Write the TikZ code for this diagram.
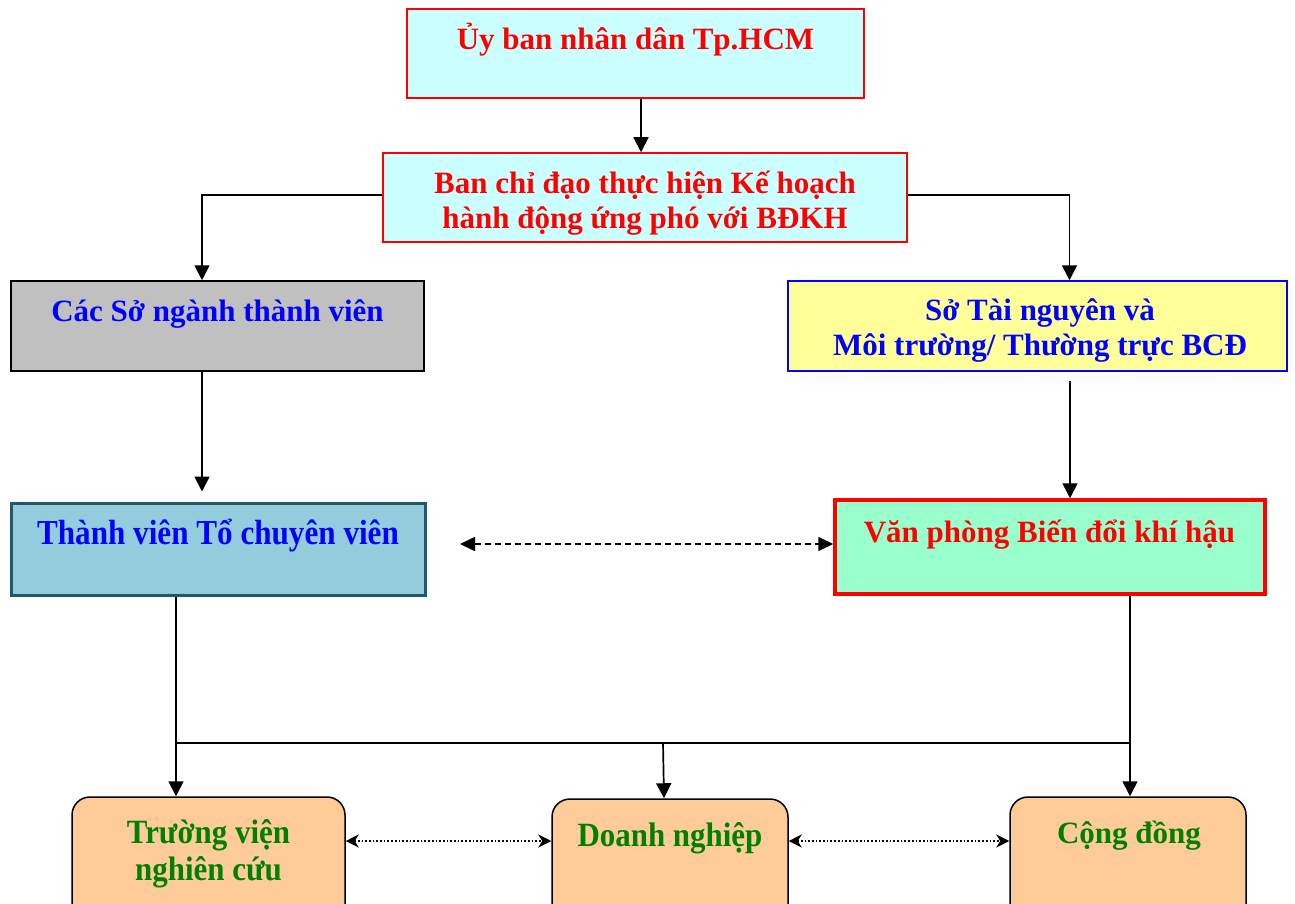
\documentclass[tikz,border=0pt]{standalone}
\usepackage{fontspec}
\setmainfont{Liberation Serif}
\usetikzlibrary{arrows.meta}
\definecolor{cyanfill}{HTML}{CCFFFF}
\definecolor{grayfill}{HTML}{C0C0C0}
\definecolor{yellowfill}{HTML}{FFFF99}
\definecolor{bluefill}{HTML}{93CDDD}
\definecolor{tealline}{HTML}{215968}
\definecolor{mintfill}{HTML}{99FFCC}
\definecolor{orangefill}{HTML}{FFCC99}
\definecolor{txtred}{HTML}{FF0000}
\definecolor{txtblue}{HTML}{0000FF}
\definecolor{txtgreen}{HTML}{008000}
\tikzset{
  boxbase/.style={rectangle, inner sep=0pt},
  redbox/.style={boxbase, draw=txtred, fill=cyanfill, line width=1.5pt},
  graybox/.style={boxbase, draw=black, fill=grayfill, line width=1.5pt},
  yellowbox/.style={boxbase, draw=txtblue, fill=yellowfill, line width=1.5pt},
  tealbox/.style={boxbase, draw=tealline, fill=bluefill, line width=3pt},
  mintbox/.style={boxbase, draw=txtred, fill=mintfill, line width=3.5pt},
  roundbox/.style={boxbase, draw=black, fill=orangefill, line width=1.5pt, rounded corners=18pt},
  txt/.style={inner sep=0pt, font=\fontsize{31}{35}\selectfont\bfseries, align=center},
  ctxt/.style={inner sep=0pt, font=\fontsize{34}{37}\selectfont\bfseries, align=center},
  arr/.style={line width=1.7pt, -{Triangle[width=15pt,length=15pt]}},
  plain/.style={line width=1.7pt},
  dasharr/.style={line width=1.7pt, dashed, dash pattern=on 6pt off 4pt, {Triangle[width=14pt,length=15pt]}-{Triangle[width=14pt,length=15pt]}},
  dotarr/.style={line width=1.7pt, dotted, {Stealth[width=13pt,length=13pt,inset=4pt]}-{Stealth[width=13pt,length=13pt,inset=4pt]}}
}
\begin{document}
\begin{tikzpicture}[x=1pt,y=-1pt]
\useasboundingbox[fill=white] (0,0) rectangle (1295,904);
% boxes
\node[redbox, minimum width=457pt, minimum height=89pt] (ubnd) at (635.5,53.5) {};
\node[redbox, minimum width=524pt, minimum height=89pt] (ban) at (645,197.5) {};
\node[graybox, minimum width=413pt, minimum height=90pt] (cacso) at (217.5,326) {};
\node[yellowbox, minimum width=499pt, minimum height=90pt] (sotn) at (1037.5,326) {};
\node[tealbox, minimum width=414pt, minimum height=92pt] (thanhvien) at (218,549) {};
\node[mintbox, minimum width=430pt, minimum height=94pt] (vanphong) at (1050,547) {};
\node[roundbox, minimum width=273pt, minimum height=125pt] (truong) at (208.5,859.5) {};
\node[roundbox, minimum width=236pt, minimum height=125pt] (doanh) at (670,861.5) {};
\node[roundbox, minimum width=236pt, minimum height=125pt] (congdong) at (1128,859.5) {};
% texts
\node[txt, text=txtred, anchor=base] (ubndT) at (635.5,50) {Ủy ban nhân dân Tp.HCM};
\node[txt, text=txtred] (banT) at (645,203) {Ban chỉ đạo thực hiện Kế hoạch\\hành động ứng phó với BĐKH};
\node[txt, text=txtblue, anchor=base] (cacsoT) at (217.5,321) {Các Sở ngành thành viên};
\node[txt, text=txtblue] (sotnT) at (1040,330) {Sở Tài nguyên và\\Môi trường/ Thường trực BCĐ};
\node[txt, text=txtblue, anchor=base] (thanhvienT) at (218,544) {\scalebox{0.89}[1]{\fontsize{35}{38}\selectfont Thành viên Tổ chuyên viên}};
\node[txt, text=txtred, anchor=base] (vanphongT) at (1049.5,542) {Văn phòng Biến đổi khí hậu};
\node[ctxt, text=txtgreen] (truongT) at (208.5,855) {\scalebox{0.91}[1]{\begin{tabular}{@{}c@{}}Trường viện\\nghiên cứu\end{tabular}}};
\node[ctxt, text=txtgreen, anchor=base] (doanhT) at (670,846) {\scalebox{0.91}[1]{Doanh nghiệp}};
\node[txt, text=txtgreen, anchor=base] (congdongT) at (1129,843) {Cộng đồng};
% connectors
\coordinate (busL) at (176,743);
\coordinate (busM) at (663,743);
\coordinate (busR) at (1130,743);
\draw[arr] ([xshift=5.5pt]ubnd.south) -- ([xshift=-4pt]ban.north);
\draw[arr] ([yshift=2.5pt]ban.west) -| ([xshift=-15.5pt]cacso.north);
\draw[arr] ([yshift=2.5pt]ban.east) -| ([xshift=32pt]sotn.north);
\draw[arr] ([xshift=-15.5pt]cacso.south) -- ([xshift=-16pt,yshift=10pt]thanhvien.north);
\draw[arr] ([xshift=32.5pt,yshift=-9pt]sotn.south) -- ([xshift=20pt]vanphong.north);
\draw[dasharr] (460,544) -- (vanphong.west |- 0,544);
\draw[plain] (thanhvien.south -| busL) -- (busL) -- (busR);
\draw[plain] (vanphong.south -| busR) -- (busR);
\draw[arr] (busL) -- (truong.north -| busL);
\draw[arr] (busM) -- ([xshift=-6pt]doanh.north);
\draw[arr] (busR) -- (congdong.north -| busR);
\draw[dotarr] (truong.east |- 0,841) -- (doanh.west |- 0,841);
\draw[dotarr] (doanh.east |- 0,841) -- (congdong.west |- 0,841);
\end{tikzpicture}
\end{document}
